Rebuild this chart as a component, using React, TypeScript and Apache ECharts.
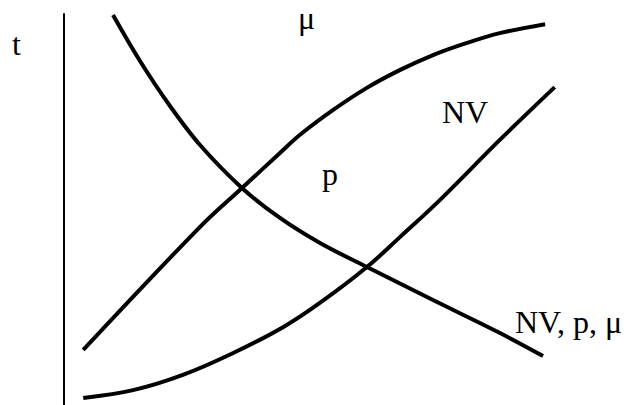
import React, { useEffect, useRef } from "react";
import * as echarts from "echarts";

// Quantity axis (horizontal, hidden) and t axis (vertical), both 0..100.
const muX = [8.66, 13.43, 18.73, 24.03, 31.45, 38.16, 45.23, 53.53, 65.19, 77.03, 84.63];
const muY = [99.74, 87.98, 76.47, 66.5, 55.5, 47.83, 41.43, 35.29, 26.85, 18.41, 12.53];

const pX = [3.4, 24.0, 31.45, 38.2, 41.7, 47.5, 53.5, 59.4, 65.2, 71.2, 77.0, 85.0];
const pY = [14.1, 45.5, 55.5, 64.5, 69.1, 75.4, 81.1, 85.7, 89.5, 92.6, 95.1, 97.4];

const nvX = [3.4, 12.2, 21.0, 29.9, 38.7, 45.2, 53.53, 59.4, 66.4, 77.0, 86.7];
const nvY = [1.8, 3.8, 7.7, 13.3, 19.9, 26.1, 35.29, 43.0, 52.4, 67.8, 81.3];

const labels = ["t", "μ", "NV", "p", "NV, p, μ"];

const pairs = (xs: number[], ys: number[]) => xs.map((x, i) => [x, ys[i]]);

const FONT = '32px "Liberation Serif", "Times New Roman", serif';

export default function App() {
  const ref = useRef<HTMLDivElement>(null);

  useEffect(() => {
    if (!ref.current) return;
    const chart = echarts.init(ref.current, undefined, { renderer: "svg" });

    const curve = (name: string, data: number[][]) => ({
      name,
      type: "line",
      data,
      smooth: 0.35,
      showSymbol: false,
      symbol: "none",
      lineStyle: { color: "#000", width: 4, cap: "butt" },
      clip: false,
    });

    const textEl = (text: string, x: number, y: number) => ({
      type: "text",
      x,
      y,
      style: {
        text,
        font: FONT,
        fill: "#000",
        textAlign: "left",
        textVerticalAlign: "middle",
      },
    });

    chart.setOption({
      animation: false,
      backgroundColor: "#fff",
      grid: { left: 64, top: 14, width: 566, height: 391 },
      xAxis: {
        type: "value",
        min: 0,
        max: 100,
        show: false,
      },
      yAxis: {
        type: "value",
        min: 0,
        max: 100,
        axisLine: { show: true, onZero: false, lineStyle: { color: "#000", width: 2 } },
        axisTick: { show: false },
        axisLabel: { show: false },
        splitLine: { show: false },
      },
      series: [
        curve("μ", pairs(muX, muY)),
        curve("p", pairs(pX, pY)),
        curve("NV", pairs(nvX, nvY)),
      ],
      graphic: [
        textEl(labels[0], 12, 44),
        textEl(labels[1], 298, 18),
        textEl(labels[2], 442, 112),
        textEl(labels[3], 322, 174),
        textEl(labels[4], 515, 322),
      ],
    });

    return () => chart.dispose();
  }, []);

  return (
    <div
      ref={ref}
      style={{ position: "absolute", left: 0, top: 0, width: 630, height: 405 }}
    />
  );
}
